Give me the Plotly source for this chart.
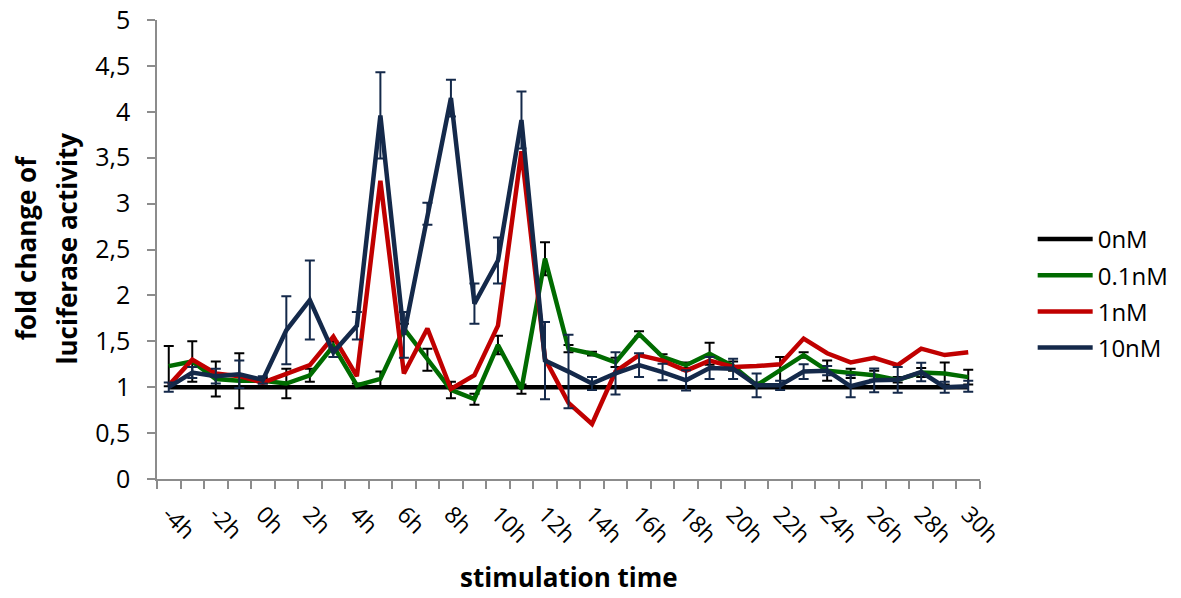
import plotly.graph_objects as go

hours = [-4, -3, -2, -1, 0, 1, 2, 3, 4, 5, 6, 7, 8, 9, 10, 11, 12, 13, 14, 15,
         16, 17, 18, 19, 20, 21, 22, 23, 24, 25, 26, 27, 28, 29, 30]
tick_hours = [-4, -2, 0, 2, 4, 6, 8, 10, 12, 14, 16, 18, 20, 22, 24, 26, 28, 30]
tick_labels = ["-4h", "-2h", "0h", "2h", "4h", "6h", "8h", "10h", "12h", "14h",
               "16h", "18h", "20h", "22h", "24h", "26h", "28h", "30h"]

nM0 = [1.0, 1.0, 1.0, 1.0, 1.0, 1.0, 1.0, 1.0, 1.0, 1.0, 1.0, 1.0, 1.0, 1.0, 1.0, 1.0, 1.0, 1.0,
       1.0, 1.0, 1.0, 1.0, 1.0, 1.0, 1.0, 1.0, 1.0, 1.0, 1.0, 1.0, 1.0, 1.0, 1.0, 1.0, 1.0]
nM01 = [1.23, 1.28, 1.09, 1.07, 1.07, 1.04, 1.13, 1.45, 1.02, 1.09, 1.64, 1.30, 0.97, 0.87,
        1.46, 0.98, 2.40, 1.42, 1.365, 1.27, 1.58, 1.33, 1.24, 1.365, 1.23, 1.02, 1.18,
        1.35, 1.18, 1.15, 1.13, 1.08, 1.16, 1.15, 1.11]
nM01_err = [0.22, 0.22, 0.19, 0.30, 0.03, 0.16, 0.07, 0.05, 0.02, 0.08, 0.05, 0.12, 0.09,
            0.06, 0.10, 0.05, 0.18, 0.04, 0.02, 0.05, 0.03, 0.03, 0.03, 0.12, 0.05, 0.03,
            0.15, 0.03, 0.11, 0.05, 0.05, 0.03, 0.05, 0.12, 0.08]
nM1 = [1.02, 1.30, 1.15, 1.12, 1.05, 1.15, 1.24, 1.55, 1.12, 3.25, 1.15, 1.64, 0.98, 1.13,
       1.67, 3.57, 1.31, 0.83, 0.60, 1.17, 1.35, 1.29, 1.18, 1.29, 1.22, 1.23, 1.25, 1.53,
       1.37, 1.27, 1.32, 1.24, 1.42, 1.35, 1.38]
nM10 = [1.00, 1.16, 1.12, 1.14, 1.08, 1.62, 1.95, 1.38, 1.67, 3.96, 1.57, 2.89, 4.15, 1.91,
        2.38, 3.91, 1.29, 1.17, 1.04, 1.15, 1.24, 1.165, 1.075, 1.21, 1.20, 1.02, 1.02,
        1.17, 1.18, 1.01, 1.075, 1.08, 1.165, 1.00, 1.01]
nM10_err = [0.05, 0.06, 0.08, 0.15, 0.04, 0.37, 0.43, 0.05, 0.15, 0.47, 0.25, 0.12, 0.20,
            0.22, 0.25, 0.31, 0.42, 0.40, 0.07, 0.23, 0.13, 0.09, 0.11, 0.12, 0.11, 0.13,
            0.05, 0.08, 0.05, 0.12, 0.13, 0.14, 0.10, 0.06, 0.06]

x_title = "stimulation time"
y_title_lines = ["fold change of", "luciferase activity"]

FONT = "Open Sans"
AXIS_GRAY = "#8C8C8C"
LW = 4.5

fig = go.Figure()
fig.add_trace(go.Scatter(x=hours, y=nM0, mode="lines", name="0nM", legendgroup="a",
                         line=dict(color="#000000", width=LW)))
fig.add_trace(go.Scatter(x=hours, y=nM01, mode="lines", name="0.1nM", legendgroup="b",
                         line=dict(color="#006B00", width=LW),
                         error_y=dict(type="data", array=nM01_err, color="#000000",
                                      thickness=2, width=5)))
fig.add_trace(go.Scatter(x=hours, y=nM1, mode="lines", name="1nM", legendgroup="c",
                         line=dict(color="#C00000", width=LW)))
fig.add_trace(go.Scatter(x=hours, y=nM10, mode="lines", name="10nM", legendgroup="d",
                         line=dict(color="#14294A", width=LW),
                         error_y=dict(type="data", array=nM10_err, color="#14294A",
                                      thickness=2, width=5)))

boundaries = [h - 0.5 for h in hours] + [hours[-1] + 0.5]

fig.update_layout(
    width=1181, height=598,
    margin=dict(l=157, r=201, t=20, b=119, autoexpand=False),
    paper_bgcolor="white", plot_bgcolor="white",
    separators=", ",
    font=dict(family=FONT, size=22, color="#000000"),
    showlegend=True,
    legend=dict(x=1.064, y=0.571, xanchor="left", yanchor="top",
                font=dict(family=FONT, size=24), itemwidth=55,
                tracegroupgap=2, bgcolor="rgba(0,0,0,0)"),
    xaxis=dict(
        range=[-4.5, 30.5], showgrid=False, zeroline=False, automargin=False,
        showline=True, linecolor=AXIS_GRAY, linewidth=1.5,
        tickmode="array", tickvals=tick_hours, ticktext=tick_labels,
        ticks="", tickangle=45, tickfont=dict(family=FONT, size=23),
        ticklabelstandoff=11,
        minor=dict(tickmode="array", tickvals=boundaries, ticks="outside",
                   ticklen=8, tickcolor=AXIS_GRAY, tickwidth=1.5),
    ),
    yaxis=dict(
        range=[0, 5], dtick=0.5, showgrid=False, zeroline=False, automargin=False,
        showline=True, linecolor=AXIS_GRAY, linewidth=1.5,
        ticks="outside", ticklen=8, tickcolor=AXIS_GRAY, tickwidth=1.5,
        tickfont=dict(family=FONT, size=25), ticklabelstandoff=12,
    ),
    annotations=[
        dict(text="<b>" + x_title + "</b>", xref="paper", yref="paper",
             x=0.5, y=-0.2135, xanchor="center", yanchor="middle", showarrow=False,
             font=dict(family=FONT, size=26)),
        dict(text="<b>" + y_title_lines[0] + "</b>", xref="paper", yref="paper",
             x=-0.159, y=0.503, xanchor="center", yanchor="middle", showarrow=False,
             textangle=-90, font=dict(family=FONT, size=26)),
        dict(text="<b>" + y_title_lines[1] + "</b>", xref="paper", yref="paper",
             x=-0.109, y=0.503, xanchor="center", yanchor="middle", showarrow=False,
             textangle=-90, font=dict(family=FONT, size=26)),
    ],
)

fig.write_html("out.html")
